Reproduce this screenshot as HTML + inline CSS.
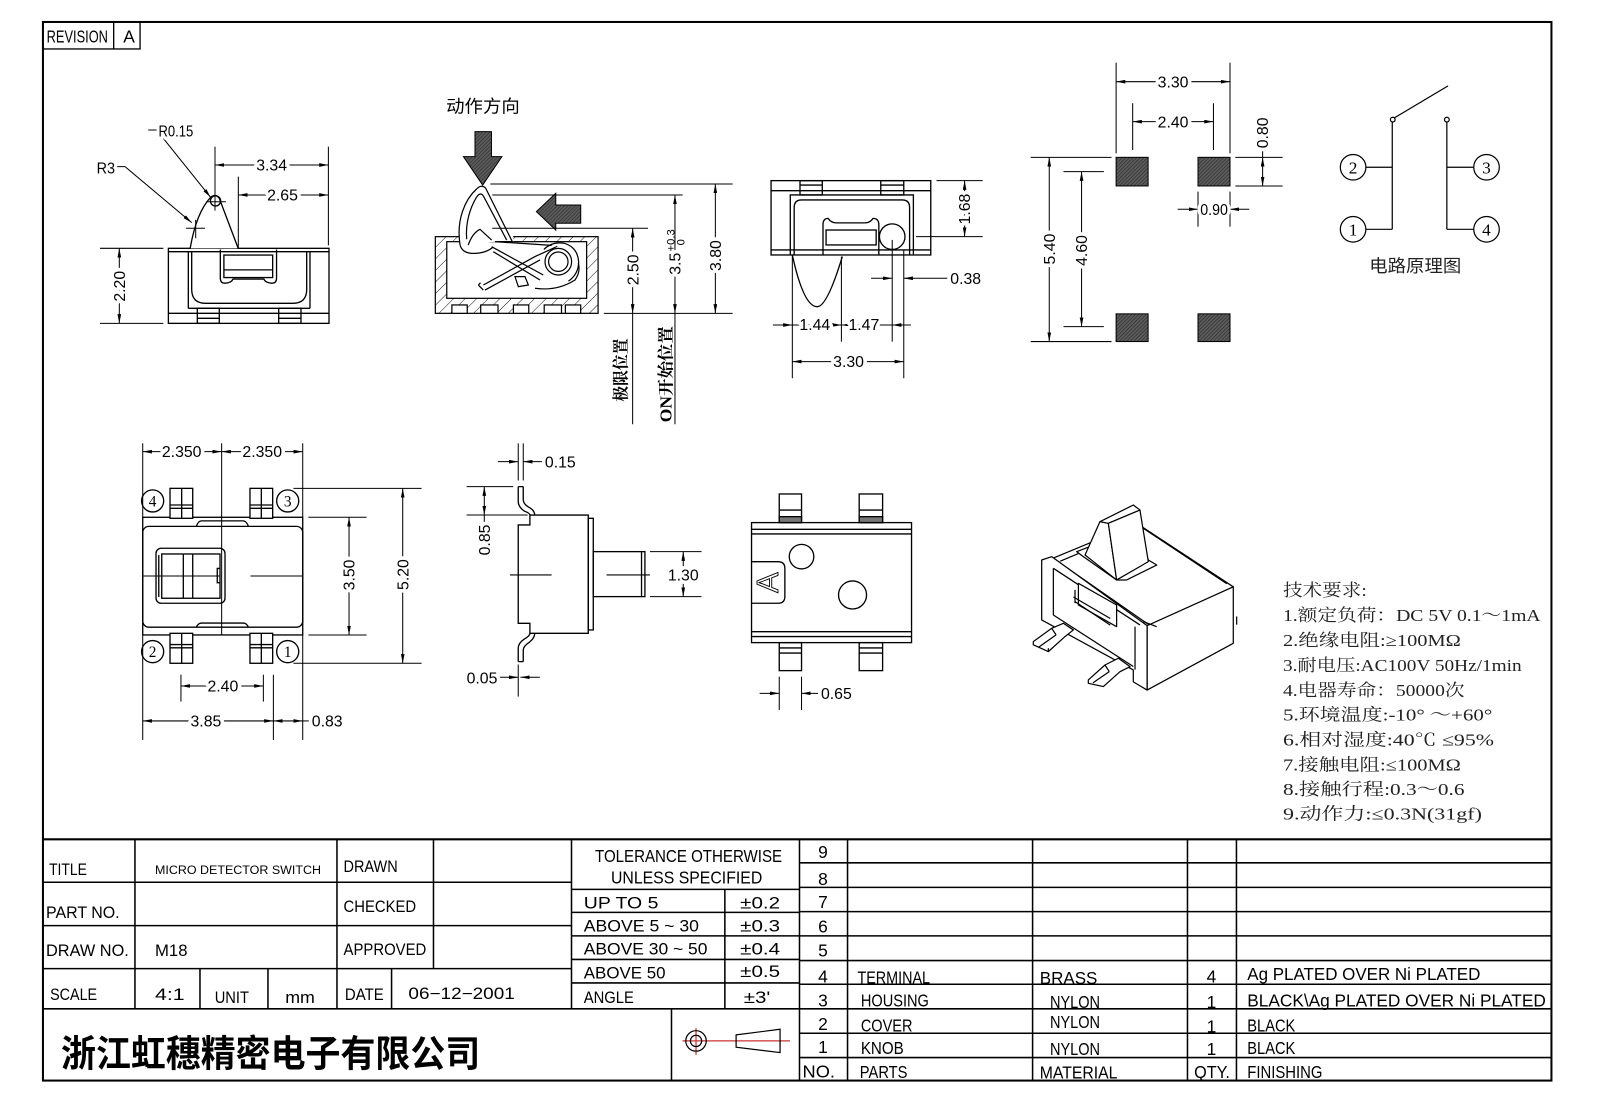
<!DOCTYPE html>
<html><head><meta charset="utf-8"><style>
html,body{margin:0;padding:0;background:#fff;}
svg{display:block;}
text{font-family:"Liberation Sans","Noto Sans CJK SC",sans-serif;fill:#000;}
.d{stroke:#fff;stroke-width:7;paint-order:stroke;stroke-linejoin:round;font-size:15.5px;}
.t{font-size:16px;}
.s{font-family:"Liberation Serif","Noto Serif CJK SC",serif;fill:#222;font-size:16.5px;}
.sf{font-family:"Liberation Serif",serif;}
</style></head><body>
<svg width="1600" height="1100" viewBox="0 0 1565 1076" preserveAspectRatio="none" xmlns="http://www.w3.org/2000/svg">
<defs>
<marker id="a" viewBox="0 0 9 3.6" refX="9" refY="1.8" markerWidth="9" markerHeight="3.6" markerUnits="userSpaceOnUse" orient="auto-start-reverse"><path d="M0,0L9,1.8L0,3.6z" fill="#000"/></marker>
<pattern id="h" width="8" height="8" patternUnits="userSpaceOnUse" patternTransform="rotate(45)"><line x1="0" y1="0" x2="0" y2="8" stroke="#000" stroke-width="0.9"/></pattern>
<pattern id="p" width="2.5" height="2.5" patternUnits="userSpaceOnUse" patternTransform="rotate(45)"><rect width="2.5" height="2.5" fill="#5a5a5a"/><line x1="0" y1="0" x2="0" y2="2.5" stroke="#222" stroke-width="0.9"/></pattern>
</defs>

<!-- Border -->
<rect x="42" y="21.5" width="1475.5" height="1035.5" fill="none" stroke="#000" stroke-width="2"/>
<g fill="none" stroke="#000" stroke-width="1.3">
<rect x="42" y="21.5" width="95" height="26.4"/>
<line x1="111.2" y1="21.5" x2="111.2" y2="47.9"/>
</g>
<text x="45.6" y="41.7" font-size="17" textLength="60" lengthAdjust="spacingAndGlyphs">REVISION</text>
<text x="120.6" y="41.7" font-size="17">A</text>

<!-- ================= VIEW 1 ================= -->
<g fill="none" stroke="#000" stroke-width="1.3">
<rect x="164.7" y="242.9" width="157.1" height="73.4"/>
<line x1="164.7" y1="246.2" x2="321.8" y2="246.2"/>
<line x1="184.2" y1="246.2" x2="184.2" y2="301.6"/>
<line x1="303.2" y1="246.2" x2="303.2" y2="301.6"/>
<line x1="184.2" y1="301.6" x2="303.2" y2="301.6"/>
<line x1="164.7" y1="306.5" x2="321.8" y2="306.5"/>
<rect x="193" y="301.6" width="21.5" height="14.7"/>
<rect x="272.6" y="301.6" width="21.8" height="14.7"/>
<line x1="193" y1="311.4" x2="214.5" y2="311.4"/>
<line x1="272.6" y1="311.4" x2="294.4" y2="311.4"/>
<path d="M187.5,246 V283 Q187.5,296.7 201,296.7 H286.5 Q300,296.7 300,283 V246"/>
<path d="M215.5,244 V272 Q215.5,277 220,277 Q226,277 228,273 H258 Q260,277 266,277 Q270.5,277 270.5,272 V244"/>
<rect x="219" y="249.5" width="47.7" height="22"/>
<line x1="219" y1="264" x2="266.7" y2="264"/>
<path d="M186,243 Q192,208 206,193 Q210.5,189 214.5,194 L233,243" fill="#fff"/>
<circle cx="210.8" cy="196.5" r="5"/>
</g>
<g stroke="#000" stroke-width="1" fill="none">
<line x1="202" y1="197.3" x2="221" y2="197.3"/>
<line x1="210.3" y1="189" x2="210.3" y2="206"/>
<line x1="182" y1="223.3" x2="200.5" y2="223.3"/>
<line x1="191.4" y1="215" x2="191.4" y2="233"/>
<polyline points="114,163 122.3,163 187.5,217.8" marker-end="url(#a)"/>
<polyline points="145,127.2 153.2,127.2 206,193" marker-end="url(#a)"/>
<line x1="210.3" y1="143.5" x2="210.3" y2="190"/>
<line x1="321.2" y1="143.5" x2="321.2" y2="240"/>
<line x1="210.3" y1="161.4" x2="321.2" y2="161.4" marker-start="url(#a)" marker-end="url(#a)"/>
<line x1="233.1" y1="172.8" x2="233.1" y2="243"/>
<line x1="233.1" y1="190.7" x2="321.2" y2="190.7" marker-start="url(#a)" marker-end="url(#a)"/>
<line x1="97.8" y1="242.9" x2="159.8" y2="242.9"/>
<line x1="97.8" y1="316.3" x2="159.8" y2="316.3"/>
<line x1="116.7" y1="242.9" x2="116.7" y2="316.3" marker-start="url(#a)" marker-end="url(#a)"/>
</g>
<text x="94.5" y="169.5" class="d" textLength="18" lengthAdjust="spacingAndGlyphs">R3</text>
<text x="155" y="133.7" class="d" textLength="34" lengthAdjust="spacingAndGlyphs">R0.15</text>
<text x="265.7" y="166.8" class="d" text-anchor="middle">3.34</text>
<text x="276.3" y="196.2" class="d" text-anchor="middle">2.65</text>
<text transform="translate(122.2,280) rotate(-90)" class="d" text-anchor="middle">2.20</text>

<!-- ================= VIEW 2 ================= -->
<text x="436.4" y="110" font-size="17" textLength="72" lengthAdjust="spacingAndGlyphs">动作方向</text>
<polygon points="464.6,128.8 480.7,128.8 480.7,153.2 490.9,153.2 472.1,181 453.3,153.2 464.6,153.2" fill="url(#p)" stroke="#000" stroke-width="1"/>
<polygon points="524.7,207 543.6,189.1 543.6,200.5 568,200.5 568,218.4 543.6,218.4 543.6,225" fill="url(#p)" stroke="#000" stroke-width="1"/>
<g stroke="#000" stroke-width="1.2">
<rect x="425.8" y="231.5" width="159.2" height="75" fill="url(#h)"/>
<rect x="437" y="236.4" width="136.8" height="55.4" fill="#fff"/>
<rect x="449" y="230.8" width="53" height="5.6" fill="#fff" stroke="none"/>
<g fill="#fff">
<rect x="442" y="298.3" width="15" height="8.2"/>
<rect x="470.2" y="298.3" width="16.9" height="8.2"/>
<rect x="502.2" y="298.3" width="15" height="8.2"/>
<rect x="532.3" y="298.3" width="16.9" height="8.2"/>
<rect x="553" y="298.3" width="15" height="8.2"/>
</g>
<path d="M450,239.7 C446,215 455,195 466,185 Q471,180 475,184 L501.1,236.4 L485.8,236.4" fill="#fff"/>
<path d="M456.5,234 C455,218 460,203 466,193 Q470,187 473,192 L495.6,234.8" fill="none"/>
<path d="M458,239.7 Q462,228 469.5,224.3 L480.9,234.8" fill="none"/>
<path d="M450,239.7 Q452,247 461,247.8 Q474,248.5 482,242" fill="none"/>
<circle cx="546.1" cy="256" r="13" fill="none"/>
<circle cx="546.1" cy="256" r="9.5" fill="none"/>
<path d="M532,244 Q540,236 552,238 Q565,242 566,256 Q566,268 556,275" fill="none"/>
<path d="M480.9,241.3 L531.4,269 M482.5,246.2 L528.2,273.9 M484.2,236.4 L539.6,240 M467.9,278.8 L472.8,283.7 M472.8,278.8 L523.3,251 L545,241 M474.4,283.7 L528.2,254.3 M467.9,278.8 L470,276.5" fill="none"/>
<path d="M503.7,270.6 L513.5,270.6 L516.8,278.8 L507,280.4 Z" fill="none"/>
<path d="M523.3,282 Q545,285 562.4,273.9 Q568,266 565.7,257.6" fill="none"/>
</g>
<g stroke="#000" stroke-width="1" fill="none">
<line x1="479.6" y1="180" x2="716.6" y2="180"/>
<line x1="481.5" y1="190.7" x2="667.7" y2="190.7"/>
<line x1="481.5" y1="223.3" x2="633.8" y2="223.3"/>
<line x1="590.6" y1="306.5" x2="716.6" y2="306.5"/>
<line x1="618.8" y1="223.3" x2="618.8" y2="306.5" marker-start="url(#a)" marker-end="url(#a)"/>
<line x1="618.8" y1="306.5" x2="618.8" y2="415"/>
<line x1="660.2" y1="190.7" x2="660.2" y2="306.5" marker-start="url(#a)" marker-end="url(#a)"/>
<line x1="660.2" y1="306.5" x2="660.2" y2="415"/>
<line x1="699.7" y1="180" x2="699.7" y2="306.5" marker-start="url(#a)" marker-end="url(#a)"/>
</g>
<text transform="translate(624.3,264) rotate(-90)" class="d" text-anchor="middle">2.50</text>
<text transform="translate(705.2,250) rotate(-90)" class="d" text-anchor="middle">3.80</text>
<g transform="translate(665.7,258) rotate(-90)">
<text x="0" class="d" text-anchor="middle">3.5</text>
<text x="12" y="-6" font-size="11">+0.3</text>
<text x="18" y="4" font-size="11">0</text>
</g>
<text transform="translate(613,362) rotate(-90)" text-anchor="middle" font-size="16" font-weight="bold" style="font-family:'Noto Serif CJK SC',serif" textLength="62" lengthAdjust="spacingAndGlyphs">极限位置</text>
<text transform="translate(657,366) rotate(-90)" text-anchor="middle" font-size="16" font-weight="bold" style="font-family:'Liberation Serif','Noto Serif CJK SC',serif" textLength="94" lengthAdjust="spacingAndGlyphs">ON开始位置</text>

<!-- ================= VIEW 3 ================= -->
<g fill="none" stroke="#000" stroke-width="1.3">
<rect x="754.2" y="176.7" width="156.2" height="72.7"/>
<line x1="754.2" y1="186.5" x2="910.4" y2="186.5"/>
<rect x="782.5" y="176.7" width="21.8" height="14"/>
<rect x="861.5" y="176.7" width="22.5" height="14"/>
<line x1="782.5" y1="181" x2="804.3" y2="181"/>
<line x1="861.5" y1="181" x2="884" y2="181"/>
<path d="M773,249.4 V190.7 H893.4 V249.4"/>
<path d="M776.8,249.4 V203 Q776.8,195.6 784,195.6 H882.5 Q889.7,195.6 889.7,203 V249.4"/>
<line x1="754.2" y1="244.5" x2="910.4" y2="244.5"/>
<path d="M805,249.4 V220 Q805,213.6 810,213.6 Q813,218 818,218 H846 Q851,218 854,213.6 Q859.6,213.6 859.6,220 V249.4"/>
<rect x="808" y="225" width="49" height="14.6"/>
<circle cx="872.7" cy="231.5" r="12.5"/>
<path d="M775,249.4 Q786,300 799.4,300 Q809,300 823.9,251"/>
</g>
<g stroke="#000" stroke-width="1" fill="none">
<line x1="916" y1="176.7" x2="961.2" y2="176.7"/>
<line x1="896" y1="231.5" x2="961.2" y2="231.5"/>
<line x1="943.5" y1="176.7" x2="943.5" y2="231.5" marker-start="url(#a)" marker-end="url(#a)"/>
<line x1="872.7" y1="234.7" x2="872.7" y2="334.2"/>
<line x1="884" y1="244" x2="884" y2="370"/>
<line x1="775" y1="249.4" x2="775" y2="370"/>
<line x1="823" y1="251" x2="823" y2="334.2"/>
<line x1="852" y1="272.2" x2="872.7" y2="272.2" marker-end="url(#a)"/>
<line x1="929" y1="272.2" x2="884" y2="272.2" marker-end="url(#a)"/>
<line x1="756" y1="317.9" x2="775" y2="317.9" marker-end="url(#a)"/>
<line x1="775" y1="317.9" x2="823" y2="317.9" marker-end="url(#a)"/>
<line x1="872.7" y1="317.9" x2="823" y2="317.9" marker-end="url(#a)"/>
<line x1="891" y1="317.9" x2="872.7" y2="317.9" marker-end="url(#a)"/>
<line x1="775" y1="353.7" x2="884" y2="353.7" marker-start="url(#a)" marker-end="url(#a)"/>
</g>
<text transform="translate(949,204.5) rotate(-90)" class="d" text-anchor="middle">1.68</text>
<text x="929.5" y="277.7" class="d">0.38</text>
<text x="797" y="323" class="d" text-anchor="middle">1.44</text>
<text x="845" y="323" class="d" text-anchor="middle">1.47</text>
<text x="830" y="359" class="d" text-anchor="middle">3.30</text>

<!-- ================= VIEW 4 (footprint) ================= -->
<g stroke="#000" stroke-width="1" fill="url(#p)">
<rect x="1091.7" y="153.9" width="31.3" height="28"/>
<rect x="1171.8" y="153.9" width="31.3" height="28"/>
<rect x="1091.7" y="307" width="31.3" height="27.1"/>
<rect x="1171.8" y="307" width="31.3" height="27.1"/>
</g>
<g stroke="#000" stroke-width="1" fill="none">
<line x1="1091.7" y1="61.3" x2="1091.7" y2="150"/>
<line x1="1203.1" y1="61.3" x2="1203.1" y2="150"/>
<line x1="1091.7" y1="79.9" x2="1203.1" y2="79.9" marker-start="url(#a)" marker-end="url(#a)"/>
<line x1="1107.9" y1="101" x2="1107.9" y2="146.7"/>
<line x1="1186.9" y1="101" x2="1186.9" y2="146.7"/>
<line x1="1107.9" y1="119" x2="1186.9" y2="119" marker-start="url(#a)" marker-end="url(#a)"/>
<line x1="1208.3" y1="153.9" x2="1254.6" y2="153.9"/>
<line x1="1208.3" y1="181.9" x2="1254.6" y2="181.9"/>
<line x1="1235" y1="143.5" x2="1235" y2="153.9"/>
<line x1="1235" y1="153.9" x2="1235" y2="181.9" marker-start="url(#a)" marker-end="url(#a)"/>
<line x1="1171.8" y1="187.4" x2="1171.8" y2="221.7"/>
<line x1="1203.1" y1="187.4" x2="1203.1" y2="221.7"/>
<line x1="1151.9" y1="204.7" x2="1171.8" y2="204.7" marker-end="url(#a)"/>
<line x1="1221.9" y1="204.7" x2="1203.1" y2="204.7" marker-end="url(#a)"/>
<line x1="1008.2" y1="153.9" x2="1087.2" y2="153.9"/>
<line x1="1008.2" y1="334.1" x2="1087.2" y2="334.1"/>
<line x1="1026.3" y1="153.9" x2="1026.3" y2="334.1" marker-start="url(#a)" marker-end="url(#a)"/>
<line x1="1040.2" y1="167.9" x2="1079.7" y2="167.9"/>
<line x1="1040.2" y1="319.5" x2="1079.7" y2="319.5"/>
<line x1="1057.9" y1="167.9" x2="1057.9" y2="319.5" marker-start="url(#a)" marker-end="url(#a)"/>
</g>
<text x="1147.4" y="85.5" class="d" text-anchor="middle">3.30</text>
<text x="1147.4" y="124.5" class="d" text-anchor="middle">2.40</text>
<text transform="translate(1240.5,130) rotate(-90)" class="d" text-anchor="middle">0.80</text>
<text x="1187.5" y="210.3" class="d" text-anchor="middle" textLength="27" lengthAdjust="spacingAndGlyphs">0.90</text>
<text transform="translate(1031.8,243.6) rotate(-90)" class="d" text-anchor="middle">5.40</text>
<text transform="translate(1063.4,245) rotate(-90)" class="d" text-anchor="middle">4.60</text>

<!-- ================= Circuit ================= -->
<g stroke="#000" stroke-width="1.2" fill="none">
<line x1="1361.8" y1="119.5" x2="1361.8" y2="224.3"/>
<line x1="1415.2" y1="119.5" x2="1415.2" y2="224.3"/>
<line x1="1363.5" y1="115.5" x2="1416.4" y2="84"/>
<circle cx="1362.3" cy="117" r="2.3"/>
<circle cx="1415.2" cy="117" r="2.3"/>
<line x1="1336" y1="163.6" x2="1361.8" y2="163.6"/>
<line x1="1336" y1="224.3" x2="1361.8" y2="224.3"/>
<line x1="1415.2" y1="163.6" x2="1441.5" y2="163.6"/>
<line x1="1415.2" y1="224.3" x2="1441.5" y2="224.3"/>
<circle cx="1323.5" cy="163.6" r="12.5"/>
<circle cx="1323.5" cy="224.3" r="12.5"/>
<circle cx="1454" cy="163.6" r="12.5"/>
<circle cx="1454" cy="224.3" r="12.5"/>
</g>
<g font-size="17" text-anchor="middle">
<text class="sf" x="1323.5" y="169.5">2</text>
<text class="sf" x="1323.5" y="230.2">1</text>
<text class="sf" x="1454" y="169.5">3</text>
<text class="sf" x="1454" y="230.2">4</text>
</g>
<text x="1339.3" y="266" font-size="17" style="fill:#222" textLength="90" lengthAdjust="spacingAndGlyphs">电路原理图</text>

<!-- ================= VIEW 5 (top view) ================= -->
<g fill="none" stroke="#000" stroke-width="1.3">
<rect x="139.6" y="506" width="156.5" height="115.1"/>
<rect x="139.6" y="514.9" width="156.5" height="98.6" rx="6"/>
<path d="M192,514.9 Q194,509.5 197,509.5 H238 Q241,509.5 243,514.9"/>
<path d="M192,613.5 Q194,609.5 197,609.5 H238 Q241,609.5 243,613.5"/>
<g fill="#fff">
<rect x="166.3" y="477.7" width="22.2" height="29.3"/>
<rect x="244.5" y="477.7" width="22.2" height="29.3"/>
<rect x="166.3" y="619.5" width="22.2" height="29.3"/>
<rect x="244.5" y="619.5" width="22.2" height="29.3"/>
</g>
<line x1="166.3" y1="494" x2="188.5" y2="494"/><line x1="166.3" y1="497.2" x2="188.5" y2="497.2"/>
<line x1="244.5" y1="494" x2="266.7" y2="494"/><line x1="244.5" y1="497.2" x2="266.7" y2="497.2"/>
<line x1="166.3" y1="630.5" x2="188.5" y2="630.5"/><line x1="166.3" y1="633.7" x2="188.5" y2="633.7"/>
<line x1="244.5" y1="630.5" x2="266.7" y2="630.5"/><line x1="244.5" y1="633.7" x2="266.7" y2="633.7"/>
<line x1="177.7" y1="477.7" x2="177.7" y2="507"/>
<line x1="255.6" y1="477.7" x2="255.6" y2="507"/>
<line x1="177.7" y1="619.5" x2="177.7" y2="648.8"/>
<line x1="255.6" y1="619.5" x2="255.6" y2="648.8"/>
<rect x="152.6" y="536.3" width="67.5" height="53.8" rx="5"/>
<rect x="158.2" y="541.9" width="57" height="43.3"/>
<line x1="155.3" y1="543" x2="155.3" y2="584"/>
<line x1="179.3" y1="541.9" x2="179.3" y2="585.2"/>
<line x1="188.5" y1="541.9" x2="188.5" y2="585.2"/>
<path d="M215.2,556 H212.5 V570 H215.2"/>
<circle cx="149.3" cy="490" r="10.8" fill="#fff"/>
<circle cx="281.4" cy="490" r="10.8" fill="#fff"/>
<circle cx="149.3" cy="637.4" r="10.8" fill="#fff"/>
<circle cx="281.4" cy="637.4" r="10.8" fill="#fff"/>
</g>
<g font-size="15" text-anchor="middle">
<text class="sf" x="149.3" y="495.5">4</text>
<text class="sf" x="281.4" y="495.5">3</text>
<text class="sf" x="149.3" y="642.9">2</text>
<text class="sf" x="281.4" y="642.9">1</text>
</g>
<g stroke="#000" stroke-width="1" fill="none">
<line x1="139.6" y1="433.6" x2="139.6" y2="506"/>
<line x1="296.1" y1="433.6" x2="296.1" y2="506"/>
<line x1="139.6" y1="621" x2="139.6" y2="723.8"/>
<line x1="296.1" y1="621" x2="296.1" y2="723.8"/>
<line x1="216.8" y1="433.6" x2="216.8" y2="621.1"/>
<line x1="139.6" y1="563.4" x2="215" y2="563.4"/>
<line x1="245" y1="563.4" x2="296.1" y2="563.4"/>
<line x1="139.6" y1="441.8" x2="216.8" y2="441.8" marker-start="url(#a)" marker-end="url(#a)"/>
<line x1="216.8" y1="441.8" x2="296.1" y2="441.8" marker-start="url(#a)" marker-end="url(#a)"/>
<line x1="287" y1="477.7" x2="412.4" y2="477.7"/>
<line x1="287" y1="648.8" x2="412.4" y2="648.8"/>
<line x1="393.9" y1="477.7" x2="393.9" y2="648.8" marker-start="url(#a)" marker-end="url(#a)"/>
<line x1="301.6" y1="506" x2="358.6" y2="506"/>
<line x1="301.6" y1="621.1" x2="358.6" y2="621.1"/>
<line x1="341.4" y1="506" x2="341.4" y2="621.1" marker-start="url(#a)" marker-end="url(#a)"/>
<line x1="177" y1="660" x2="177" y2="686.3"/>
<line x1="257.6" y1="660" x2="257.6" y2="686.3"/>
<line x1="177" y1="671" x2="257.6" y2="671" marker-start="url(#a)" marker-end="url(#a)"/>
<line x1="267.4" y1="660" x2="267.4" y2="723.8"/>
<line x1="139.6" y1="705.2" x2="267.4" y2="705.2" marker-start="url(#a)" marker-end="url(#a)"/>
<line x1="267.4" y1="705.2" x2="296.1" y2="705.2" marker-start="url(#a)" marker-end="url(#a)"/>
<line x1="296.1" y1="705.2" x2="304" y2="705.2"/>
</g>
<text x="177.7" y="447" class="d" text-anchor="middle">2.350</text>
<text x="256.5" y="447" class="d" text-anchor="middle">2.350</text>
<text transform="translate(399.4,562) rotate(-90)" class="d" text-anchor="middle">5.20</text>
<text transform="translate(346.9,562.4) rotate(-90)" class="d" text-anchor="middle">3.50</text>
<text x="218" y="676.5" class="d" text-anchor="middle">2.40</text>
<text x="201.4" y="710.7" class="d" text-anchor="middle">3.85</text>
<text x="305" y="710.7" class="d">0.83</text>

<!-- ================= VIEW 6 (side w/ terminals) ================= -->
<g fill="none" stroke="#000" stroke-width="1.3">
<path d="M506.9,513.5 H518.3 V503.8 H575.4 V619.5 H518.3 V609.7 H506.9 Z"/>
<rect x="575.4" y="507" width="4.9" height="109.2"/>
<rect x="580.3" y="539.6" width="50.5" height="44"/>
<line x1="627.5" y1="539.6" x2="627.5" y2="583.6"/>
<path d="M506.9,476 V490.7 Q507,496 513,500 Q518.3,502 518.3,503.8 M511.8,476 V489 Q512,493 517,496 Q523,499 523,503.8 M506.9,476 H511.8"/>
<path d="M518.3,619.5 Q518.3,622 513,625 Q506.9,629 506.9,634 V647.2 M523,619.5 Q523,624 518,628 Q511.8,632 511.8,636 V647.2 M506.9,647.2 H511.8"/>
</g>
<g stroke="#000" stroke-width="1" fill="none">
<line x1="498.8" y1="562.4" x2="539.5" y2="562.4"/>
<line x1="593.3" y1="562.4" x2="635.7" y2="562.4"/>
<line x1="506.9" y1="433.7" x2="506.9" y2="470"/>
<line x1="511.8" y1="433.7" x2="511.8" y2="470"/>
<line x1="487" y1="451.6" x2="506.9" y2="451.6" marker-end="url(#a)"/>
<line x1="531" y1="451.6" x2="511.8" y2="451.6" marker-end="url(#a)"/>
<line x1="456.4" y1="476" x2="502" y2="476"/>
<line x1="456.4" y1="503.8" x2="516" y2="503.8"/>
<line x1="473.7" y1="476" x2="473.7" y2="503.8" marker-start="url(#a)" marker-end="url(#a)"/>
<line x1="473.7" y1="503.8" x2="473.7" y2="541.3"/>
<line x1="635.7" y1="539.6" x2="686.2" y2="539.6"/>
<line x1="635.7" y1="583.6" x2="686.2" y2="583.6"/>
<line x1="668.3" y1="539.6" x2="668.3" y2="583.6" marker-start="url(#a)" marker-end="url(#a)"/>
<line x1="506.9" y1="650" x2="506.9" y2="681.4"/>
<line x1="486" y1="662.5" x2="506.9" y2="662.5" marker-end="url(#a)"/>
<line x1="528" y1="662.5" x2="509" y2="662.5" marker-end="url(#a)"/>
</g>
<text x="533" y="457.1" class="d">0.15</text>
<text transform="translate(479.2,528.2) rotate(-90)" class="d" text-anchor="middle">0.85</text>
<text x="668.3" y="568" class="d" text-anchor="middle">1.30</text>
<text x="456.4" y="668.4" class="d">0.05</text>

<!-- ================= VIEW 7 (bottom view) ================= -->
<g fill="none" stroke="#000" stroke-width="1.3">
<g fill="#fff">
<rect x="762.2" y="483.2" width="21.8" height="28"/>
<rect x="840.4" y="483.2" width="22.9" height="28"/>
<rect x="762.2" y="628.6" width="21.8" height="27.4"/>
<rect x="840.4" y="628.6" width="22.9" height="27.4"/>
</g>
<rect x="762.2" y="505.4" width="21.8" height="5.8" fill="#777"/>
<rect x="840.4" y="505.4" width="22.9" height="5.8" fill="#777"/>
<line x1="762.2" y1="498.9" x2="784" y2="498.9"/>
<line x1="840.4" y1="498.9" x2="863.3" y2="498.9"/>
<line x1="762.2" y1="633.8" x2="784" y2="633.8"/>
<line x1="840.4" y1="633.8" x2="863.3" y2="633.8"/>
<line x1="762.2" y1="638.8" x2="784" y2="638.8"/>
<line x1="840.4" y1="638.8" x2="863.3" y2="638.8"/>
<rect x="735.1" y="511.2" width="156.5" height="117.4"/>
<line x1="735.1" y1="517.8" x2="891.6" y2="517.8"/>
<line x1="735.1" y1="522.3" x2="891.6" y2="522.3"/>
<line x1="735.1" y1="617.9" x2="891.6" y2="617.9"/>
<line x1="735.1" y1="622.7" x2="891.6" y2="622.7"/>
<path d="M735.1,549.4 H761 Q767.7,549.4 767.7,556 V583.5 Q767.7,590.1 761,590.1 H735.1"/>
<circle cx="784" cy="544.5" r="12"/>
<circle cx="833.9" cy="582" r="13.7"/>
</g>
<text transform="translate(760.8,569.9) rotate(-90)" text-anchor="middle" font-size="30" style="fill:#fff;stroke:#000;stroke-width:0.9">A</text>
<g stroke="#000" stroke-width="1" fill="none">
<line x1="762.2" y1="661.9" x2="762.2" y2="694.5"/>
<line x1="784" y1="661.9" x2="784" y2="694.5"/>
<line x1="743" y1="678.2" x2="762.2" y2="678.2" marker-end="url(#a)"/>
<line x1="803" y1="678.2" x2="784" y2="678.2" marker-end="url(#a)"/>
</g>
<text x="803" y="684" class="d">0.65</text>

<!-- ================= VIEW 8 (3D) ================= -->
<g stroke="#000" stroke-width="1.2" fill="#fff" stroke-linejoin="round">
<polygon points="1030,546 1112,512 1206.3,574 1125,612"/>
<polyline points="1037,549 1112,517.5 1118.3,516.8 1200,571" fill="none"/>
<polygon points="1122,612 1206.3,574 1206.3,629.3 1122,675"/>
<path d="M1018.9,547.8 L1028.7,544.5 L1122,612 V675 L1108.5,667 V655.3 L1018.9,606.4 Z"/>
<line x1="1030.3" y1="555.9" x2="1115" y2="611.3" fill="none"/>
<line x1="1030.3" y1="555.9" x2="1030.3" y2="601.6" fill="none"/>
<line x1="1030.3" y1="601.6" x2="1108.5" y2="652" fill="none"/>
<line x1="1110.2" y1="613" x2="1110.2" y2="655" fill="none"/>
<line x1="1118.3" y1="608" x2="1131.4" y2="613" fill="none"/>
<polygon points="1054.8,570.6 1092.2,591.8 1092.2,613 1054.8,591.8"/>
<line x1="1050" y1="584" x2="1086" y2="605" fill="none"/>
<line x1="1051.5" y1="588.5" x2="1086" y2="611.5" fill="none"/>
<line x1="1051.5" y1="577" x2="1051.5" y2="590" fill="none"/>
<polygon points="1053.1,539.6 1059.6,544.5 1092.2,567.3 1102,567.3 1131.4,552.7 1123.2,547.8 1112,517"/>
<polygon points="1061.3,542.9 1075.9,510.3 1084.1,511.9 1092.2,567.3"/>
<polygon points="1075.9,510.3 1108.5,494 1115,498.9 1084.1,511.9"/>
<polygon points="1084.1,511.9 1115,498.9 1123.2,549.4 1092.2,567.3"/>
<polygon points="1010.7,627.6 1028.7,614.6 1040.1,609.7 1049.9,616.2 1041.7,622.7 1025.4,637.4 1010.7,630.8"/>
<line x1="1025.4" y1="637.4" x2="1025.4" y2="634" fill="none"/>
<line x1="1028.7" y1="614.6" x2="1033" y2="621" fill="none"/>
<line x1="1033" y1="621" x2="1016" y2="633" fill="none"/>
<polygon points="1064.5,665.1 1080.8,650.5 1093.9,643.9 1105.3,652.1 1095.5,657 1079.2,671.6 1064.5,668.4"/>
<line x1="1080.8" y1="650.5" x2="1085" y2="657" fill="none"/>
<line x1="1085" y1="657" x2="1069" y2="668" fill="none"/>
<line x1="1209.6" y1="603" x2="1209.6" y2="611" fill="none"/>
</g>

<!-- Tech requirements -->
<text class="s" x="1254.9" y="583" textLength="82" lengthAdjust="spacingAndGlyphs">技术要求:</text>
<text class="s" x="1254.9" y="607.5" textLength="252" lengthAdjust="spacingAndGlyphs">1.额定负荷：DC 5V  0.1～1mA</text>
<text class="s" x="1254.9" y="632" textLength="174" lengthAdjust="spacingAndGlyphs">2.绝缘电阻:≥100MΩ</text>
<text class="s" x="1254.9" y="656.5" textLength="233.5" lengthAdjust="spacingAndGlyphs">3.耐电压:AC100V 50Hz/1min</text>
<text class="s" x="1254.9" y="681" textLength="177.6" lengthAdjust="spacingAndGlyphs">4.电器寿命：50000次</text>
<text class="s" x="1254.9" y="705" textLength="204.7" lengthAdjust="spacingAndGlyphs">5.环境温度:-10°  ～+60°</text>
<text class="s" x="1254.9" y="729" textLength="206.4" lengthAdjust="spacingAndGlyphs">6.相对湿度:40℃   ≤95%</text>
<text class="s" x="1254.9" y="753.5" textLength="174" lengthAdjust="spacingAndGlyphs">7.接触电阻:≤100MΩ</text>
<text class="s" x="1254.9" y="777.5" textLength="177.6" lengthAdjust="spacingAndGlyphs">8.接触行程:0.3～0.6</text>
<text class="s" x="1254.9" y="801.5" textLength="194.6" lengthAdjust="spacingAndGlyphs">9.动作力:≤0.3N(31gf)</text>

<!-- ================= TITLE BLOCK ================= -->
<line x1="42" y1="821" x2="1517.5" y2="821" stroke="#000" stroke-width="2"/>
<g stroke="#000" stroke-width="1.5" fill="none">
<line x1="42" y1="863" x2="559" y2="863"/>
<line x1="42" y1="905.4" x2="559" y2="905.4"/>
<line x1="42" y1="947.5" x2="559" y2="947.5"/>
<line x1="42" y1="986.8" x2="1517.5" y2="986.8"/>
<line x1="559" y1="870" x2="782" y2="870"/>
<line x1="559" y1="892.5" x2="782" y2="892.5"/>
<line x1="559" y1="915.5" x2="782" y2="915.5"/>
<line x1="559" y1="938.5" x2="782" y2="938.5"/>
<line x1="559" y1="961.5" x2="782" y2="961.5"/>
<line x1="782" y1="844" x2="1517.5" y2="844"/>
<line x1="782" y1="868" x2="1517.5" y2="868"/>
<line x1="782" y1="891.7" x2="1517.5" y2="891.7"/>
<line x1="782" y1="915.5" x2="1517.5" y2="915.5"/>
<line x1="782" y1="939.6" x2="1517.5" y2="939.6"/>
<line x1="782" y1="962.8" x2="1517.5" y2="962.8"/>
<line x1="782" y1="1010.7" x2="1517.5" y2="1010.7"/>
<line x1="782" y1="1034.5" x2="1517.5" y2="1034.5"/>
<line x1="132" y1="821" x2="132" y2="986.8"/>
<line x1="195.6" y1="947.5" x2="195.6" y2="986.8"/>
<line x1="262.1" y1="947.5" x2="262.1" y2="986.8"/>
<line x1="329.6" y1="821" x2="329.6" y2="986.8"/>
<line x1="383" y1="947.5" x2="383" y2="986.8"/>
<line x1="424" y1="821" x2="424" y2="947.5"/>
<line x1="559" y1="821" x2="559" y2="986.8"/>
<line x1="709" y1="870" x2="709" y2="986.8"/>
<line x1="782" y1="821" x2="782" y2="1057"/>
<line x1="656.8" y1="986.8" x2="656.8" y2="1057"/>
<line x1="829" y1="821" x2="829" y2="1057"/>
<line x1="1010" y1="821" x2="1010" y2="1057"/>
<line x1="1161.5" y1="821" x2="1161.5" y2="1057"/>
<line x1="1209.4" y1="821" x2="1209.4" y2="1057"/>
</g>
<g class="t">
<text x="48" y="856" textLength="37" lengthAdjust="spacingAndGlyphs">TITLE</text>
<text x="151.6" y="855" font-size="12" textLength="162.4" lengthAdjust="spacingAndGlyphs">MICRO DETECTOR SWITCH</text>
<text x="336" y="853" textLength="53" lengthAdjust="spacingAndGlyphs">DRAWN</text>
<text x="45" y="898" textLength="72" lengthAdjust="spacingAndGlyphs">PART NO.</text>
<text x="336" y="892" textLength="71" lengthAdjust="spacingAndGlyphs">CHECKED</text>
<text x="45" y="935" textLength="81" lengthAdjust="spacingAndGlyphs">DRAW NO.</text>
<text x="151.6" y="935" textLength="31.8" lengthAdjust="spacingAndGlyphs">M18</text>
<text x="336" y="934" textLength="81" lengthAdjust="spacingAndGlyphs">APPROVED</text>
<text x="49" y="978" textLength="46" lengthAdjust="spacingAndGlyphs">SCALE</text>
<text x="151.6" y="978" textLength="29" lengthAdjust="spacingAndGlyphs">4:1</text>
<text x="210" y="981" textLength="33.5" lengthAdjust="spacingAndGlyphs">UNIT</text>
<text x="279" y="981" textLength="29" lengthAdjust="spacingAndGlyphs">mm</text>
<text x="337.4" y="978" textLength="38" lengthAdjust="spacingAndGlyphs">DATE</text>
<text x="399.5" y="977" textLength="104" lengthAdjust="spacingAndGlyphs">06−12−2001</text>
<text x="582" y="843" font-size="17" textLength="183" lengthAdjust="spacingAndGlyphs">TOLERANCE  OTHERWISE</text>
<text x="597.6" y="864" font-size="17" textLength="148" lengthAdjust="spacingAndGlyphs">UNLESS  SPECIFIED</text>
<text x="571" y="888.5" textLength="73" lengthAdjust="spacingAndGlyphs">UP  TO  5</text>
<text x="724" y="888.5" textLength="39" lengthAdjust="spacingAndGlyphs">±0.2</text>
<text x="571" y="911.3" textLength="112.7" lengthAdjust="spacingAndGlyphs">ABOVE  5 ~ 30</text>
<text x="724" y="911.3" textLength="39" lengthAdjust="spacingAndGlyphs">±0.3</text>
<text x="571" y="933.5" textLength="121" lengthAdjust="spacingAndGlyphs">ABOVE  30 ~ 50</text>
<text x="724" y="933.5" textLength="39" lengthAdjust="spacingAndGlyphs">±0.4</text>
<text x="571" y="957" textLength="80" lengthAdjust="spacingAndGlyphs">ABOVE  50</text>
<text x="724" y="955.5" textLength="39" lengthAdjust="spacingAndGlyphs">±0.5</text>
<text x="571" y="981" textLength="49" lengthAdjust="spacingAndGlyphs">ANGLE</text>
<text x="727.5" y="981" textLength="26" lengthAdjust="spacingAndGlyphs">±3'</text>
</g>
<text x="59.7" y="1043" font-size="36" font-weight="bold" style="font-family:'Noto Sans CJK SC','WenQuanYi Zen Hei',sans-serif" textLength="410" lengthAdjust="spacingAndGlyphs">浙江虹穗精密电子有限公司</text>
<!-- logo -->
<g fill="none" stroke-width="1.2">
<line x1="667.5" y1="1018.2" x2="772.7" y2="1018.2" stroke="#c33"/>
<line x1="680.8" y1="1005.7" x2="680.8" y2="1031.9" stroke="#c33"/>
<circle cx="680.8" cy="1018.2" r="10" stroke="#000"/>
<circle cx="680.8" cy="1018.2" r="5.5" stroke="#000"/>
<polygon points="720,1012.3 763,1006.8 763,1029.6 720,1024.4" stroke="#000"/>
</g>
<!-- parts list -->
<g font-size="17" text-anchor="middle">
<text x="805" y="839.5">9</text>
<text x="805" y="865.6">8</text>
<text x="805" y="888.4">7</text>
<text x="805" y="912.3">6</text>
<text x="805" y="935.7">5</text>
<text x="805" y="961.1">4</text>
<text x="805" y="984.6">3</text>
<text x="805" y="1007.4">2</text>
<text x="805" y="1030.2">1</text>
<text x="1185" y="961">4</text>
<text x="1185" y="986">1</text>
<text x="1185" y="1010">1</text>
<text x="1185" y="1032">1</text>
</g>
<g font-size="17">
<text x="785" y="1054" textLength="31.7" lengthAdjust="spacingAndGlyphs">NO.</text>
<text x="838.7" y="961.8" textLength="71" lengthAdjust="spacingAndGlyphs">TERMINAL</text>
<text x="1017" y="962.5" textLength="56.4" lengthAdjust="spacingAndGlyphs">BRASS</text>
<text x="1220" y="958.5" textLength="228" lengthAdjust="spacingAndGlyphs">Ag  PLATED  OVER  Ni  PLATED</text>
<text x="842" y="984.6" textLength="66.6" lengthAdjust="spacingAndGlyphs">HOUSING</text>
<text x="1027" y="986" textLength="49" lengthAdjust="spacingAndGlyphs">NYLON</text>
<text x="1220" y="984.6" textLength="292" lengthAdjust="spacingAndGlyphs">BLACK\Ag  PLATED  OVER  Ni  PLATED</text>
<text x="842" y="1009" textLength="50.5" lengthAdjust="spacingAndGlyphs">COVER</text>
<text x="1027" y="1005.8" textLength="49" lengthAdjust="spacingAndGlyphs">NYLON</text>
<text x="1220" y="1009" textLength="47" lengthAdjust="spacingAndGlyphs">BLACK</text>
<text x="842" y="1031" textLength="42" lengthAdjust="spacingAndGlyphs">KNOB</text>
<text x="1027" y="1031.8" textLength="49" lengthAdjust="spacingAndGlyphs">NYLON</text>
<text x="1220" y="1031" textLength="47" lengthAdjust="spacingAndGlyphs">BLACK</text>
<text x="841" y="1054.5" textLength="46.6" lengthAdjust="spacingAndGlyphs">PARTS</text>
<text x="1017" y="1055" textLength="76" lengthAdjust="spacingAndGlyphs">MATERIAL</text>
<text x="1168" y="1054.5" textLength="35" lengthAdjust="spacingAndGlyphs">QTY.</text>
<text x="1220" y="1054.5" textLength="73.5" lengthAdjust="spacingAndGlyphs">FINISHING</text>
</g>
</svg>
</body></html>
